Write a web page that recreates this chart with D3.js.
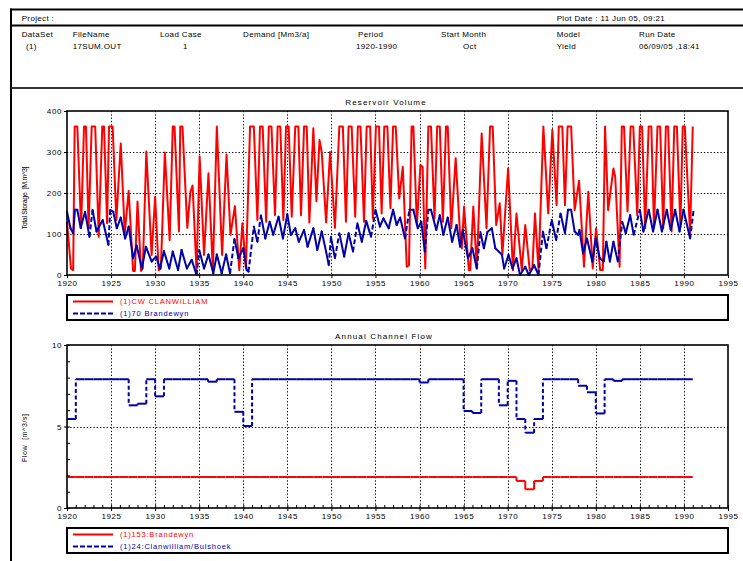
<!DOCTYPE html>
<html><head><meta charset="utf-8">
<script src="https://cdn.jsdelivr.net/npm/d3@7/dist/d3.min.js"></script>
<style>
body{margin:0;background:#fff;}
svg text{font-family:"Liberation Sans",Arial,Helvetica,sans-serif;}
</style></head>
<body><svg id="chart" width="743" height="561"></svg>
<script>
// ================= DATA =================
const headerProject = "Project :";
const headerPlotDate = "Plot Date : 11 Jun 05, 09:21";
const headerColumns = ["DataSet","FileName","Load Case","Demand [Mm3/a]","Period","Start Month","Model","Run Date"];
const headerValues  = ["(1)","17SUM.OUT","1","","1920-1990","Oct","Yield","06/09/05 ,18:41"];

const xTickYears = [1920,1925,1930,1935,1940,1945,1950,1955,1960,1965,1970,1975,1980,1985,1990,1995];
const storageTicks = [0,100,200,300,400];
const storageGrid = [100,200,300];
const flowTicks = [0,5,10];
const flowGrid = [5];

const storageTitle = "Reservoir Volume";
const storageAxisLabel = "Total Storage  [M.m^3]";
const storageSeriesNames = ["(1)CW CLANWILLIAM","(1)70 Brandewyn"];

const flowTitle = "Annual Channel Flow";
const flowAxisLabel = "Flow  [m^3/s]";
const flowSeriesNames = ["(1)153:Brandewyn","(1)24:Clanwilliam/Bulshoek"];

// Reservoir volume as [year, M.m^3] turning points
const clanwilliamVolume = [
[1920.0,130],[1920.45,16],[1920.7,12],[1920.87,362],[1921.17,362],[1921.6,114],[1921.93,362],[1922.15,362],[1922.45,114],
[1922.8,362],[1923.2,362],[1923.6,93],[1924.0,362],[1924.2,362],[1924.55,126],[1924.77,362],[1925.18,362],[1925.6,134],
[1926.1,321],[1926.55,102],[1927.0,205],[1927.5,10],[1927.7,10],[1928.0,179],[1928.4,10],[1928.6,16],[1929.0,301],
[1929.6,49],[1930.0,191],[1930.4,12],[1930.65,16],[1931.1,299],[1931.65,85],[1932.0,362],[1932.2,362],[1932.7,106],
[1932.85,362],[1933.1,362],[1933.65,115],[1934.0,203],[1934.25,218],[1934.7,8],[1935.05,289],[1935.55,49],[1936.05,248],
[1936.55,12],[1937.0,362],[1937.6,49],[1938.1,294],[1938.55,98],[1939.05,168],[1939.55,12],[1939.9,126],
[1940.3,16],[1940.77,362],[1941.2,362],[1941.6,134],[1941.9,362],[1942.2,362],[1942.6,130],[1942.9,362],[1943.2,362],
[1943.6,146],[1943.9,362],[1944.2,362],[1944.55,134],[1944.85,362],[1945.15,362],[1945.5,142],[1945.9,362],[1946.25,362],
[1946.55,146],[1946.9,362],[1947.2,362],[1947.5,128],[1947.95,358],[1948.3,180],[1948.65,329],[1948.9,300],[1949.4,128],
[1949.85,300],[1950.4,115],[1950.9,362],[1951.3,362],[1951.65,130],[1951.95,362],[1952.3,362],[1952.7,142],[1953.0,362],
[1953.3,362],[1953.7,130],[1954.0,362],[1954.4,362],[1954.7,138],[1955.05,362],[1955.4,362],[1955.7,150],[1956.0,362],
[1956.35,362],[1956.7,163],[1957.0,362],[1957.3,362],[1957.7,187],[1958.1,264],[1958.55,20],[1958.8,24],[1959.1,362],
[1959.3,362],[1959.7,122],[1960.1,268],[1960.35,264],[1960.65,16],[1961.0,362],[1961.3,362],[1961.7,138],[1962.0,362],
[1962.3,362],[1962.65,130],[1963.0,362],[1963.2,362],[1963.6,114],[1964.1,285],[1964.6,98],[1964.8,65],[1965.05,167],
[1965.6,12],[1965.75,12],[1966.1,167],[1966.5,16],[1967.05,345],[1967.6,114],[1968.0,362],[1968.3,362],[1968.7,122],
[1969.1,175],[1969.4,49],[1970.05,260],[1970.6,12],[1971.0,150],[1971.6,12],[1972.0,122],[1972.5,12],[1972.8,16],
[1973.1,150],[1973.5,12],[1974.05,362],[1974.6,150],[1975.07,354],[1975.55,170],[1975.8,362],[1976.2,362],[1976.5,170],
[1976.8,362],[1977.2,362],[1977.6,158],[1978.1,230],[1978.66,20],[1979.15,203],[1979.65,16],[1980.03,114],[1980.5,12],
[1980.8,12],[1981.05,362],[1981.4,158],[1982.0,260],[1982.2,240],[1982.7,20],[1982.95,362],[1983.2,362],[1983.6,155],
[1983.95,362],[1984.25,362],[1984.7,146],[1985.0,362],[1985.25,362],[1985.6,114],[1986.0,362],[1986.3,362],[1986.6,118],
[1987.0,362],[1987.3,362],[1987.65,114],[1987.95,362],[1988.2,362],[1988.6,106],[1988.9,362],[1989.2,362],[1989.6,118],
[1989.86,362],[1990.1,362],[1990.7,102],[1991.0,362]
];

const brandewynVolume = [
[1920.0,154],[1920.4,114],[1920.7,102],[1920.9,159],[1921.17,159],[1921.55,115],[1922.05,154],[1922.55,93],[1922.9,159],
[1923.35,106],[1924.05,134],[1924.7,73],[1924.9,159],[1925.25,154],[1925.65,114],[1926.1,140],[1926.6,89],[1927.0,118],
[1927.5,41],[1927.9,72],[1928.5,16],[1928.95,69],[1929.6,33],[1930.1,45],[1930.55,16],[1931.0,58],[1931.6,16],[1932.0,57],
[1932.6,12],[1933.0,61],[1933.6,16],[1934.15,37],[1934.7,0],[1935.0,61],[1935.55,16],[1936.05,50],[1936.6,4],[1937.0,50],
[1937.55,4],[1938.05,50],[1938.5,4],[1939.0,88],[1939.45,41],[1940.0,65],[1940.4,12],[1940.6,8],[1941.2,118],[1941.6,81],
[1942.0,146],[1942.5,89],[1943.0,130],[1943.4,98],[1944.0,142],[1944.5,89],[1945.0,148],[1945.4,98],[1945.9,114],[1946.3,81],
[1946.9,110],[1947.3,69],[1947.95,114],[1948.4,61],[1948.9,106],[1949.4,57],[1949.7,24],[1949.95,93],[1950.4,41],[1950.9,102],
[1951.45,45],[1951.95,102],[1952.45,57],[1952.95,126],[1953.45,81],[1953.95,132],[1954.5,93],[1955.0,159],[1955.5,118],
[1955.9,138],[1956.5,114],[1957.0,159],[1957.4,122],[1957.8,140],[1958.35,89],[1958.85,159],[1959.3,159],[1959.8,114],
[1960.2,130],[1960.6,57],[1961.0,159],[1961.3,159],[1961.9,110],[1962.3,146],[1962.7,98],[1963.2,140],[1963.7,81],
[1964.2,122],[1964.6,69],[1964.9,110],[1965.5,41],[1966.0,65],[1966.5,16],[1966.9,105],[1967.3,65],[1967.7,105],
[1968.2,114],[1968.6,65],[1969.0,57],[1969.35,49],[1969.6,16],[1970.1,49],[1970.55,16],[1971.0,41],[1971.4,0],[1972.0,20],
[1972.4,0],[1973.0,24],[1973.5,0],[1974.0,106],[1974.4,65],[1975.0,134],[1975.5,85],[1976.0,150],[1976.5,102],[1976.85,159],
[1977.2,159],[1977.6,106],[1978.0,98],[1978.15,110],[1978.55,53],[1979.0,89],[1979.6,33],[1980.0,89],[1980.45,41],
[1980.9,33],[1981.2,81],[1981.6,33],[1982.0,81],[1982.5,33],[1983.0,130],[1983.4,102],[1983.9,146],[1984.3,98],[1985.0,159],
[1985.4,106],[1986.0,159],[1986.5,106],[1987.0,159],[1987.5,106],[1988.05,159],[1988.5,110],[1989.0,159],[1989.5,106],
[1989.95,159],[1990.7,89],[1991.1,159]
];

// Annual channel flow, one value per year starting 1920 (m^3/s)
const flowStartYear = 1920;
const brandewynFlow = [
1.9,1.9,1.9,1.9,1.9,1.9,1.9,1.9,1.9,1.9,   // 1920-1929
1.9,1.9,1.9,1.9,1.9,1.9,1.9,1.9,1.9,1.9,   // 1930-1939
1.9,1.9,1.9,1.9,1.9,1.9,1.9,1.9,1.9,1.9,   // 1940-1949
1.9,1.9,1.9,1.9,1.9,1.9,1.9,1.9,1.9,1.9,   // 1950-1959
1.9,1.9,1.9,1.9,1.9,1.9,1.9,1.9,1.9,1.9,   // 1960-1969
1.9,1.66,1.15,1.66,1.9,1.9,1.9,1.9,1.9,1.9,// 1970-1979
1.9,1.9,1.9,1.9,1.9,1.9,1.9,1.9,1.9,1.9,   // 1980-1989
1.9                                         // 1990
];
const clanwilliamBulshoekFlow = [
5.46,7.9,7.9,7.9,7.9,7.9,7.9,6.3,6.4,7.9,  // 1920-1929
6.85,7.9,7.9,7.9,7.9,7.9,7.75,7.9,7.9,5.9, // 1930-1939
5.03,7.9,7.9,7.9,7.9,7.9,7.9,7.9,7.9,7.9,  // 1940-1949
7.9,7.9,7.9,7.9,7.9,7.9,7.9,7.9,7.9,7.9,   // 1950-1959
7.7,7.9,7.9,7.9,7.9,5.95,5.83,7.9,7.9,6.3, // 1960-1969
7.8,5.46,4.62,5.46,7.9,7.9,7.9,7.9,7.5,7.1,// 1970-1979
5.8,7.9,7.8,7.9,7.9,7.9,7.9,7.9,7.9,7.9,   // 1980-1989
7.9                                         // 1990
];

// ================= LAYOUT / STYLE =================
const RED = "#ff0000", BLUE = "#0000a8";
const FONT = '"Liberation Sans", Arial, Helvetica, sans-serif';
const svg = d3.select("#chart");
const L = 67, R = 728;

function txt(s, px, py, o = {}) {
  const t = svg.append("text").attr("x", px).attr("y", py).text(s)
    .attr("font-size", o.size || 8).attr("fill", o.fill || "#000")
    .attr("text-anchor", o.anchor || "start")
    .attr("letter-spacing", o.ls || 0)
    .style("white-space", "pre");
  if (o.len) t.attr("textLength", o.len).attr("lengthAdjust", "spacing");
  if (o.rot) t.attr("transform", `rotate(-90,${px},${py})`);
  return t;
}
function hline(x1, x2, y, w, c) {
  svg.append("line").attr("x1", x1).attr("x2", x2).attr("y1", y).attr("y2", y)
    .attr("stroke", c || "#000").attr("stroke-width", w);
}

// outer frame + header
hline(10, 743, 9.5, 2);
svg.append("line").attr("x1", 11).attr("x2", 11).attr("y1", 8.5).attr("y2", 561).attr("stroke", "#000").attr("stroke-width", 2);
hline(11, 743, 25.5, 2);
hline(11, 743, 88, 2.2, "#333");
txt(headerProject, 21.7, 21, { size: 8, ls: 0.35 });
txt(headerPlotDate, 556.7, 21, { size: 8, ls: 0.35 });
const headerColX = [21.7, 72.7, 160, 243, 358, 441, 556.7, 639];
const headerValX = [26, 72.7, 183, 243, 356, 463, 556.7, 639];
headerColumns.forEach((c, i) => txt(c, headerColX[i], 37, { size: 8, ls: 0.35 }));
headerValues.forEach((c, i) => txt(c, headerValX[i], 48.5, { size: 8, ls: 0.35 }));

// scales
const x = d3.scaleLinear().domain([1920, 1995]).range([L, R]);
const yS = d3.scaleLinear().domain([0, 400]).range([275, 111]);
const yF = d3.scaleLinear().domain([0, 10]).range([508, 345]);

function grid(y, yGrid) {
  const [b, t] = y.range();
  const g = svg.append("g").attr("stroke", "#000").attr("stroke-width", 1).attr("stroke-dasharray", "1.3,2");
  xTickYears.filter(v => v > 1920 && v < 1995).forEach(v => {
    const px = Math.round(x(v)) + 0.5;
    g.append("line").attr("x1", px).attr("x2", px).attr("y1", t).attr("y2", b);
  });
  yGrid.forEach(v => {
    const py = Math.round(y(v)) + 0.5;
    g.append("line").attr("x1", L).attr("x2", R).attr("y1", py).attr("y2", py);
  });
}
function axes(y, yTicks, minor) {
  const [b, t] = y.range();
  const gx = svg.append("g").attr("transform", `translate(0,${b})`)
    .call(d3.axisBottom(x).tickValues(xTickYears).tickFormat(d3.format("d")).tickSize(3).tickPadding(2));
  const gy = svg.append("g").attr("transform", `translate(${L},0)`)
    .call(d3.axisLeft(y).tickValues(yTicks).tickSize(3).tickPadding(2));
  [gx, gy].forEach(g => {
    g.select(".domain").remove();
    g.attr("font-family", FONT).attr("font-size", 8);
    g.selectAll("text").attr("letter-spacing", 0.6).attr("fill", "#000");
    g.selectAll("line").attr("stroke", "#000");
  });
  if (minor) {
    const mx = svg.append("g").attr("transform", `translate(0,${b})`)
      .call(d3.axisBottom(x).tickValues(d3.range(1920, 1996)).tickSize(-3).tickFormat(""));
    mx.select(".domain").remove(); mx.selectAll("line").attr("stroke", "#000");
    const my = svg.append("g").attr("transform", `translate(${L},0)`)
      .call(d3.axisLeft(y).tickValues(d3.range(0, 11)).tickSize(-3).tickFormat(""));
    my.select(".domain").remove(); my.selectAll("line").attr("stroke", "#000");
  }
  svg.append("rect").attr("x", L).attr("y", t).attr("width", R - L).attr("height", b - t)
    .attr("fill", "none").attr("stroke", "#000").attr("stroke-width", 1.6);
}
function legend(top, names) {
  svg.append("rect").attr("x", L).attr("y", top).attr("width", R - L).attr("height", 25)
    .attr("fill", "none").attr("stroke", "#000").attr("stroke-width", 2);
  const ys = [top + 6.5, top + 18.5];
  svg.append("line").attr("x1", 73).attr("x2", 113).attr("y1", ys[0]).attr("y2", ys[0]).attr("stroke", RED).attr("stroke-width", 2);
  svg.append("line").attr("x1", 73).attr("x2", 113).attr("y1", ys[1]).attr("y2", ys[1]).attr("stroke", BLUE)
    .attr("stroke-width", 2).attr("stroke-dasharray", "5,2");
  txt(names[0], 120, ys[0] + 2.8, { size: 7.5, fill: RED, ls: 0.8 });
  txt(names[1], 120, ys[1] + 2.8, { size: 7.5, fill: BLUE, ls: 0.8 });
}

// ---------- Top panel: Reservoir Volume ----------
txt(storageTitle, 386, 105, { size: 8, anchor: "middle", ls: 1.15 });
grid(yS, storageGrid);
const lineS = d3.line().x(d => x(d[0])).y(d => yS(d[1]));
svg.append("path").datum(clanwilliamVolume).attr("d", lineS)
  .attr("fill", "none").attr("stroke", RED).attr("stroke-width", 2).attr("stroke-linejoin", "round");
const gB = svg.append("g");
d3.pairs(brandewynVolume).forEach(([a, b]) => {
  const rise = yS(a[1]) - yS(b[1]);
  gB.append("line").attr("x1", x(a[0])).attr("y1", yS(a[1])).attr("x2", x(b[0])).attr("y2", yS(b[1]))
    .attr("stroke", BLUE).attr("stroke-width", 2).attr("stroke-linecap", rise > 25 ? "butt" : "round")
    .attr("stroke-dasharray", rise > 25 ? "5,2.5" : null);
});
axes(yS, storageTicks, false);
txt(storageAxisLabel, 26.5, 198, { size: 7, anchor: "middle", rot: true, len: 63 });
legend(295, storageSeriesNames);

// ---------- Bottom panel: Annual Channel Flow ----------
txt(flowTitle, 384, 339, { size: 8, anchor: "middle", ls: 1.15 });
grid(yF, flowGrid);
function stepSeries(vals, color, dashVertical) {
  const g = svg.append("g");
  vals.forEach((v, i) => {
    const y0 = flowStartYear + i;
    g.append("line").attr("x1", x(y0)).attr("x2", x(y0 + 1)).attr("y1", yF(v)).attr("y2", yF(v))
      .attr("stroke", color).attr("stroke-width", 2);
    if (i < vals.length - 1 && vals[i + 1] !== v) {
      g.append("line").attr("x1", x(y0 + 1)).attr("x2", x(y0 + 1)).attr("y1", yF(v)).attr("y2", yF(vals[i + 1]))
        .attr("stroke", color).attr("stroke-width", 2)
        .attr("stroke-dasharray", dashVertical ? "4,2.5" : null);
    }
  });
}
stepSeries(brandewynFlow, RED, false);
stepSeries(clanwilliamBulshoekFlow, BLUE, true);
axes(yF, flowTicks, true);
txt(flowAxisLabel, 26.5, 438, { size: 7, anchor: "middle", rot: true, len: 48 });
legend(528, flowSeriesNames);
</script>
</body></html>
